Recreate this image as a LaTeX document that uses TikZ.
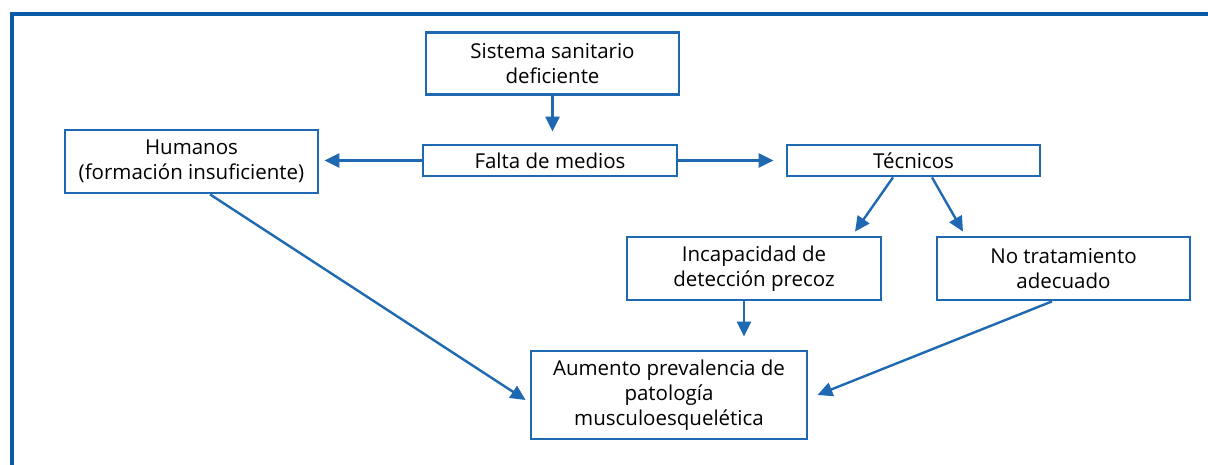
\documentclass[tikz,border=0pt]{standalone}
\usepackage{fontspec}
\setmainfont{Open Sans}
\usetikzlibrary{arrows.meta}
\definecolor{boxblue}{RGB}{30,105,178}
\definecolor{frameblue}{RGB}{10,90,168}
\begin{document}
\begin{tikzpicture}[x=1pt,y=-1pt,
  box/.style={draw=boxblue,line width=2.8pt,rectangle,inner sep=0pt,align=center,
    font=\fontsize{20.5}{25}\selectfont,text=black},
  conn/.style={draw=boxblue,line width=2.4pt,-{Triangle[length=15pt,width=14pt]}}]
\useasboundingbox (0,0) rectangle (1208,465);
\draw[frameblue,line width=3.5pt] (12,466) -- (12,14) -- (1209,14);
\node[box,minimum width=253pt,minimum height=62pt] (sis) at (552.5,63.5) {Sistema sanitario\\deficiente};
\node[box,minimum width=254pt,minimum height=31pt] (fal) at (550,160.5) {Falta de medios};
\node[box,minimum width=253pt,minimum height=63pt] (hum) at (191.5,161.5) {Humanos\\(formación insuficiente)};
\node[box,minimum width=253pt,minimum height=31pt] (tec) at (913.5,160.5) {Técnicos};
\node[box,minimum width=254pt,minimum height=63pt] (inc) at (754,268.5) {Incapacidad de\\detección precoz};
\node[box,minimum width=253pt,minimum height=63pt] (not) at (1063.5,268.5) {No tratamiento\\adecuado};
\node[box,minimum width=276pt,minimum height=88pt] (aum) at (669,395) {Aumento prevalencia de\\patología\\musculoesquelética};
\draw[conn,shorten >=12pt] (sis.south) -- (sis.south |- fal.north);
\draw[conn,shorten >=5pt] (fal.west) -- (fal.west -| hum.east);
\draw[conn,shorten >=12pt] (fal.east) -- (tec.west);
\draw[conn] ([xshift=-20.5pt]tec.south) -- ([xshift=101pt,yshift=4pt]inc.north);
\draw[conn] ([xshift=18.5pt]tec.south) -- ([xshift=-100.5pt,yshift=4pt]not.north);
\draw[conn,shorten >=13pt] ([xshift=-10pt]inc.south) -- ([xshift=-10pt]inc.south |- aum.north);
\draw[conn] ([xshift=18.5pt]hum.south) -- ([xshift=-4pt,yshift=-5pt]aum.west);
\draw[conn] ([xshift=-11.5pt]not.south) -- ([xshift=9pt]aum.east);
\end{tikzpicture}
\end{document}
